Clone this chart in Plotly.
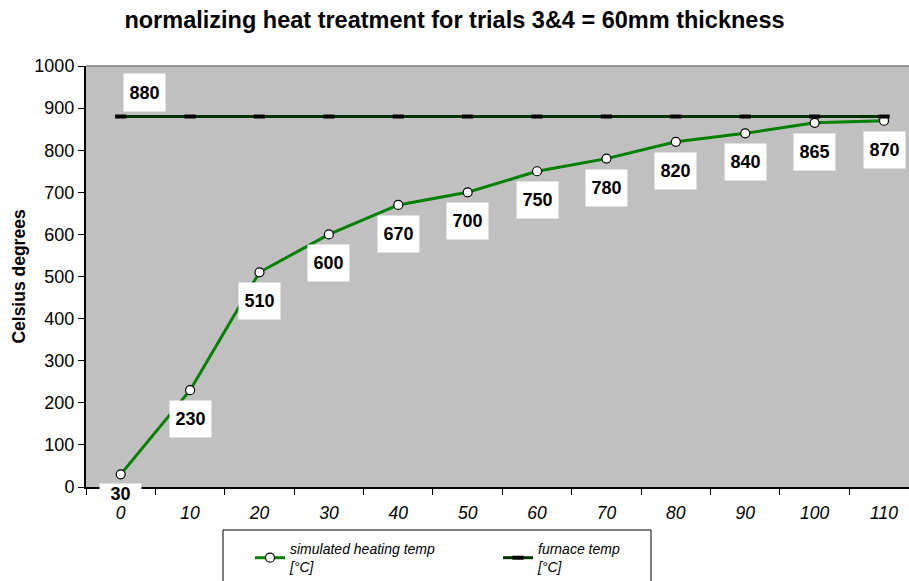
import plotly.graph_objects as go

# data
time_labels = ["0", "10", "20", "30", "40", "50", "60", "70", "80", "90", "100", "110"]
simulated_temp = [30, 230, 510, 600, 670, 700, 750, 780, 820, 840, 865, 870]
furnace_temp = [880] * 12

TITLE = "normalizing heat treatment for trials 3&4 = 60mm thickness"
Y_TITLE = "Celsius degrees"
FONT = "Liberation Sans, Arial, sans-serif"

W, H = 909, 581
M_L, M_R, M_T, M_B = 86, 0, 66, 94
PW = W - M_L - M_R
PH = H - M_T - M_B


def px_x(p):
    return (p - M_L) / PW


def px_y(p):
    return (H - M_B - p) / PH


fig = go.Figure()

fig.add_trace(go.Scatter(
    x=time_labels, y=simulated_temp,
    name="simulated heating temp<br>[°C]",
    mode="lines+markers",
    line=dict(color="#008000", width=3),
    marker=dict(symbol="circle", size=9, color="white",
                line=dict(color="black", width=1.2)),
))

fig.add_trace(go.Scatter(
    x=time_labels, y=furnace_temp,
    name="furnace temp<br>[°C]",
    mode="lines+markers",
    line=dict(color="#003300", width=3),
    marker=dict(symbol="line-ew", size=8, color="black",
                line=dict(color="black", width=4)),
))

# data labels: white boxes below each simulated point (x given as category index)
for i, val in enumerate(simulated_temp):
    # first box sits on the x axis, keep it short so the "0" tick label stays visible
    first = i == 0
    fig.add_annotation(
        x=i, y=val, xref="x", yref="y",
        text=f"<b>{val}</b>", showarrow=False,
        font=dict(family=FONT, size=18, color="black"),
        bgcolor="white", width=39, height=18 if first else 34,
        yanchor="top", yshift=-9 if first else -10,
    )

# single label for the furnace line
fig.add_annotation(
    x=0, y=furnace_temp[0], xref="x", yref="y",
    text=f"<b>{furnace_temp[0]}</b>", showarrow=False,
    font=dict(family=FONT, size=18, color="black"),
    bgcolor="white", width=39, height=35,
    xshift=24, yanchor="bottom", yshift=5,
)

# top edge of plot area and legend frame
fig.add_shape(type="line", xref="paper", yref="paper", x0=0, x1=1, y0=1, y1=1,
              line=dict(color="#808080", width=1.5))
fig.add_shape(type="rect", xref="paper", yref="paper",
              x0=px_x(223), x1=px_x(651), y0=px_y(530), y1=px_y(590),
              line=dict(color="black", width=1), fillcolor="rgba(0,0,0,0)")

fig.update_xaxes(
    type="category", range=[-0.5, 11.36],
    showline=True, linecolor="black", linewidth=2,
    ticks="outside", ticklen=6, tickcolor="black", tickwidth=1,
    tickson="boundaries", showgrid=False, zeroline=False,
    tickfont=dict(family=FONT, size=17.5, color="black", style="italic"),
    ticklabelstandoff=9,
)
fig.update_yaxes(
    range=[0, 1000], dtick=100,
    showline=True, linecolor="black", linewidth=2,
    ticks="outside", ticklen=6, tickcolor="black", tickwidth=1,
    showgrid=False, zeroline=False,
    tickfont=dict(family=FONT, size=18, color="black"),
    title=dict(text=f"<b>{Y_TITLE}</b>", font=dict(family=FONT, size=17.5, color="black"),
               standoff=4),
)

fig.update_layout(
    width=W, height=H,
    margin=dict(l=M_L, r=M_R, t=M_T, b=M_B, autoexpand=False),
    paper_bgcolor="white", plot_bgcolor="#C0C0C0",
    title=dict(text=f"<b>{TITLE}</b>", x=0.5, xref="container", xanchor="center",
               y=1 - 20 / H, yref="container", yanchor="middle",
               font=dict(family=FONT, size=23.5, color="black")),
    showlegend=True,
    legend=dict(
        orientation="h", x=px_x(250), xanchor="left", y=px_y(533), yanchor="top",
        bgcolor="rgba(0,0,0,0)", borderwidth=0,
        font=dict(family=FONT, size=14, color="black", style="italic"),
        entrywidth=203, entrywidthmode="pixels", itemwidth=30,
        traceorder="normal",
    ),
)

# the browser's default 8px body margin would push the figure off the window
fig.write_html("out.html", config={"displayModeBar": False},
               post_script="document.body.style.margin='0';")
